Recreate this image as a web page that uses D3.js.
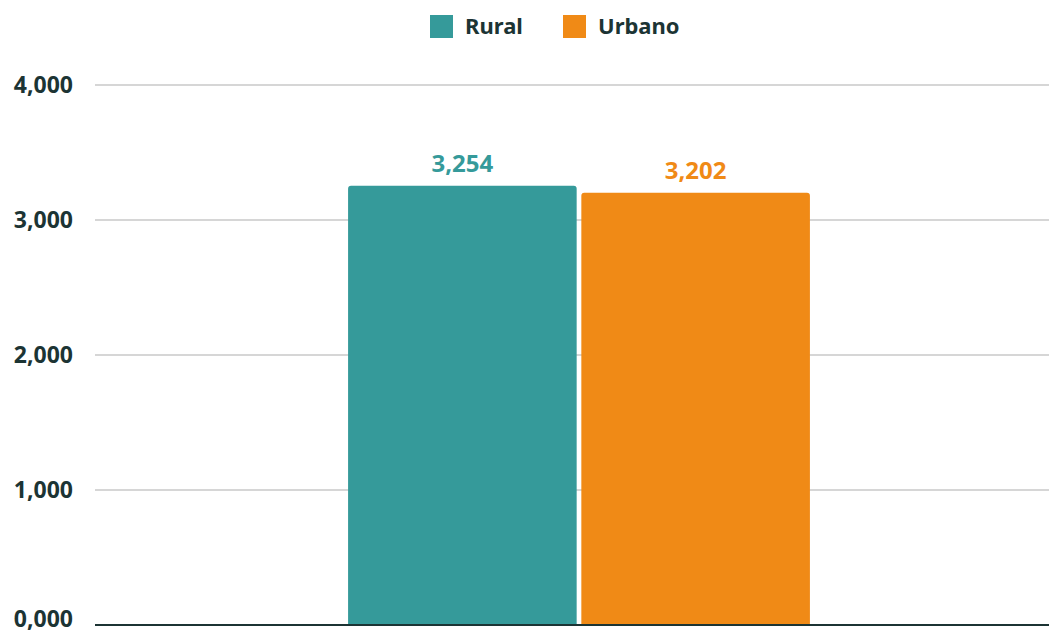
<!DOCTYPE html>
<html>
<head>
<meta charset="utf-8">
<script src="https://cdn.jsdelivr.net/npm/d3@7"></script>
<style>
  body { margin: 0; background: #fff; }
  svg { display: block; font-family: 'Noto Sans', 'Open Sans', sans-serif; }
</style>
</head>
<body>
<svg id="chart" width="1049" height="635"></svg>
<script>
const categories = [''];
const seriesNames = ['Rural', 'Urbano'];
const seriesColors = ['#359a9a', '#f08a16'];
const values = [[3.254, 3.202]];
const yTicks = [0, 1, 2, 3, 4];

const margin = { top: 85, right: 0, bottom: 10, left: 95 };
const width = 1049;
const height = 635;

const locale = d3.formatLocale({ decimal: ',', thousands: '.', grouping: [3], currency: ['', ''] });
const fmt = locale.format('.3f');

const svg = d3.select('#chart');
const dark = '#1c3434';

const y = d3.scaleLinear()
  .domain([0, 4])
  .range([height - margin.bottom, margin.top]);

const x0 = d3.scaleBand()
  .domain(categories)
  .range([margin.left, width + 14])
  .padding(0.354);

const x1 = d3.scaleBand()
  .domain(seriesNames)
  .range([0, x0.bandwidth()])
  .paddingInner(0.02)
  .paddingOuter(0);

// grid
svg.append('g')
  .selectAll('line')
  .data(yTicks.filter(t => t > 0))
  .enter()
  .append('line')
  .attr('x1', margin.left)
  .attr('x2', width)
  .attr('y1', d => y(d))
  .attr('y2', d => y(d))
  .attr('stroke', '#c8c8c8')
  .attr('stroke-width', 1.5);

// y labels (the zero label sits a bit higher so it is not clipped)
svg.append('g')
  .selectAll('text')
  .data(yTicks)
  .enter()
  .append('text')
  .attr('x', 73)
  .attr('y', d => (d === 0 ? y(d) - 6 : y(d)))
  .attr('dy', '0.36em')
  .attr('text-anchor', 'end')
  .attr('font-size', 23)
  .attr('font-weight', 700)
  .attr('fill', dark)
  .text(d => fmt(d));

// bars
const groups = svg.append('g')
  .selectAll('g')
  .data(categories)
  .enter()
  .append('g')
  .attr('transform', d => `translate(${x0(d)},0)`);

groups.selectAll('path')
  .data((d, i) => values[i].map((v, j) => ({ v, j })))
  .enter()
  .append('path')
  .attr('fill', d => seriesColors[d.j])
  .attr('d', (d) => {
    const bx = x1(seriesNames[d.j]);
    const bw = x1.bandwidth();
    const top = y(d.v);
    const bot = y(0);
    const r = 3;
    return `M${bx},${bot}V${top + r}Q${bx},${top} ${bx + r},${top}H${bx + bw - r}Q${bx + bw},${top} ${bx + bw},${top + r}V${bot}Z`;
  });

groups.selectAll('text')
  .data((d, i) => values[i].map((v, j) => ({ v, j })))
  .enter()
  .append('text')
  .attr('x', d => x1(seriesNames[d.j]) + x1.bandwidth() / 2)
  .attr('y', d => y(d.v) - 14)
  .attr('text-anchor', 'middle')
  .attr('font-size', 24)
  .attr('font-weight', 700)
  .attr('fill', d => seriesColors[d.j])
  .text(d => fmt(d.v));

// baseline
svg.append('line')
  .attr('x1', margin.left)
  .attr('x2', width)
  .attr('y1', y(0))
  .attr('y2', y(0))
  .attr('stroke', dark)
  .attr('stroke-width', 2);

// legend
const legendX = [430, 563];
const legend = svg.append('g')
  .selectAll('g')
  .data(seriesNames)
  .enter()
  .append('g')
  .attr('transform', (d, i) => `translate(${legendX[i]},15)`);

legend.append('rect')
  .attr('width', 23)
  .attr('height', 23)
  .attr('fill', (d, i) => seriesColors[i]);

legend.append('text')
  .attr('x', 35)
  .attr('y', 11.5)
  .attr('dy', '0.36em')
  .attr('font-size', 22)
  .attr('font-weight', 700)
  .attr('fill', dark)
  .text(d => d);
</script>
</body>
</html>
